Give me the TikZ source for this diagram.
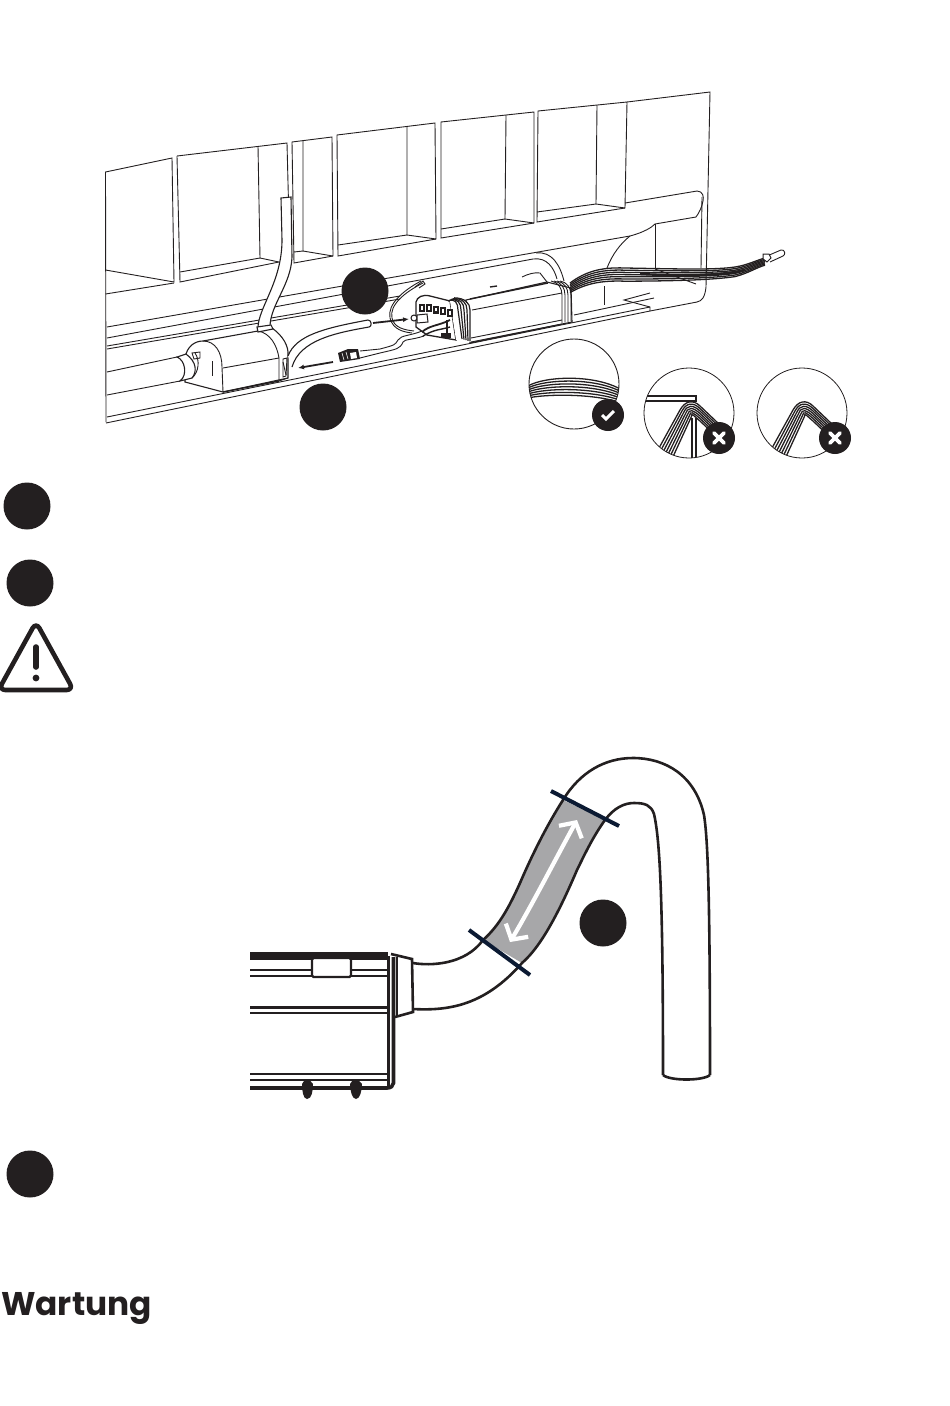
\documentclass[tikz,border=0pt]{standalone}
\usepackage{fontspec}
\newfontfamily\headfont{Poppins}
\usetikzlibrary{arrows.meta,calc}
\definecolor{inkdark}{HTML}{231F20}
\definecolor{navybar}{HTML}{0B1A33}
\definecolor{tubegray}{HTML}{A7A7A9}
\tikzset{
	thinline/.style={draw=inkdark, line width=0.9pt},
	midline/.style={draw=inkdark, line width=1.4pt},
	tubeline/.style={draw=inkdark, line width=2.6pt},
	bundleline/.style={draw=inkdark, line width=1.3pt},
	callout/.style={circle, fill=inkdark, minimum size=47pt, inner sep=0pt},
	marker/.style={circle, fill=inkdark, minimum size=32pt, inner sep=0pt},
	pointer/.style={inkdark, line width=1.8pt, -{Latex[length=6pt,width=5pt]}},
	whitearrow/.style={white, line width=4.2pt, line cap=round, {Straight Barb[length=11pt,width=26pt,line width=4.2pt]}-{Straight Barb[length=11pt,width=26pt,line width=4.2pt]}}
}
\begin{document}
\begin{tikzpicture}[x=1pt,y=-1pt]
	\useasboundingbox (0,0) rectangle (950,1406);

	% wall and niches
	\draw[thinline] (106,422) -- (105.5,172) -- (172,158) -- (174,282) -- (105.5,270);
	\draw[thinline] (105.5,294) -- (174,283);
	\draw[thinline] (177,156) -- (287,143) -- (290,262);
	\draw[thinline] (177,156) -- (180,282) -- (279,262) -- (260,258) -- (258,146);
	\draw[thinline] (180,272) -- (260,258);
	\draw[thinline] (292,142) -- (332,137) -- (333,256) -- (294,263) -- cycle;
	\draw[thinline] (303,141) -- (303,251) -- (333,256);
	\draw[thinline] (294,252) -- (303,251);
	\draw[thinline] (337,135) -- (435,123) -- (436,239) -- (338,256) -- cycle;
	\draw[thinline] (338,245) -- (407,235) -- (407,126);
	\draw[thinline] (407,235) -- (436,239);
	\draw[thinline] (441,122) -- (534,112) -- (534,223) -- (441,238) -- cycle;
	\draw[thinline] (441,229) -- (505,219) -- (506,115);
	\draw[thinline] (505,219) -- (534,223);
	\draw[thinline] (538,111) -- (627,102) -- (625,208) -- (537,222) -- cycle;
	\draw[thinline] (537,212) -- (596,204) -- (597,105);
	\draw[thinline] (596,204) -- (625,208);
	\draw[thinline] (627,102) -- (710,92) -- (706,287) .. controls (705,297) and (702,301) .. (697,302);

	% ledge
	\draw[thinline] (625,203) -- (697,191) .. controls (703,191) and (704,197) .. (703,201) .. controls (702,207) and (699,213) .. (696,217) -- (655,224);
	\draw[thinline] (702,197) -- (701,268);
	\draw[thinline] (655,224) -- (655,268);
	\draw[thinline] (107,327) -- (630,236) .. controls (645,232) and (652,227) .. (655,224);
	\draw[thinline] (630,236) .. controls (620,244) and (612,255) .. (607,268);
	\draw[thinline] (536,253) .. controls (552,251) and (560,265) .. (564,281);
	\draw[thinline] (107,338) -- (533,259) .. controls (547,257) and (554,268) .. (557,279);
	\draw[thinline] (107,346) -- (400,296);
	\draw[thinline] (107,349) -- (400,299);
	\draw[thinline] (107,372) -- (177,357);
	\draw[thinline] (107,395) -- (180,381);
	\draw[thinline] (107,417) -- (650,307);
	\draw[thinline] (106,423) -- (650,311) -- (650,307) -- (624,300) -- (650,293);
	\draw[thinline] (650,311) -- (697,302);
	\draw[thinline] (655,269) -- (696,284) ;
	\draw[thinline] (574,315) -- (654,298);
	\draw[thinline] (604,286) -- (604,305);

	% condensate box
	\filldraw[fill=white, draw=inkdark, line width=1.1pt] (185,382) -- (185,358) .. controls (187,346) and (195,341) .. (203,341) -- (258,331) -- (272,328) .. controls (283,336) and (289,346) .. (288,356) -- (288,378) -- (223,392) -- cycle;
	\draw[thinline] (203,341) .. controls (215,341) and (222,352) .. (222,367) -- (223,392);
	\draw[thinline] (223,368) -- (279,358);
	\draw[midline] (223,392) -- (279,381);
	\draw[thinline] (258,331) .. controls (270,333) and (277,345) .. (279,358) -- (279,381) -- (288,378);
	\draw[thinline] (283,359) -- (287,358) -- (286,376) -- (283,377) -- cycle;
	\draw[thinline] (283,362) -- (286,375);
	\filldraw[fill=white, draw=inkdark, line width=1.1pt] (177,357) .. controls (185,360) and (188,375) .. (180,381) -- (192,378) .. controls (197,372) and (197,362) .. (186,354) -- cycle;
	\draw[thinline] (195,353) .. controls (200,360) and (199,372) .. (192,378);
	\draw[thinline] (192,353) -- (200,352) -- (200,358) -- (194,359) -- cycle;
	\draw[thinline] (212,361) -- (212,376);

	% drain hose
	\filldraw[fill=white, draw=inkdark, line width=1.1pt] (258,328) .. controls (258,308) and (282,282) .. (282,240) -- (281,198) -- (291,197) -- (292,257) .. controls (291,285) and (270,305) .. (270,327);
	\filldraw[fill=white, draw=inkdark, line width=1.1pt] (257,327) -- (271,325) -- (273,329) -- (258,332) -- cycle;

	% outlet tube
	\filldraw[fill=white, draw=inkdark, line width=1.1pt] (288,356) .. controls (296,335) and (325,328) .. (368,320) .. controls (372,320) and (372,327) .. (369,327) .. controls (335,333) and (300,340) .. (292,367);

	% connector and lead
	\draw[thinline, fill=white] (360,351) -- (380,349) .. controls (395,345) and (395,345) .. (398,340) .. controls (401,335) and (410,336) .. (422,331);
	\draw[thinline] (360,358) -- (380,353) .. controls (397,349) and (400,349) .. (403,342) .. controls (405,339) and (412,340) .. (424,336);
	\fill[inkdark] (338,353) -- (348,349) -- (358,349) -- (360,359) -- (340,362) -- cycle;
	\fill[white] (350,353) -- (356,352) -- (357,358) -- (351,359) -- cycle;
	\draw[white, line width=0.6pt] (342,353) -- (344,360);
	\draw[white, line width=0.6pt] (346,352) -- (348,359);

	% driver body
	\filldraw[fill=white, draw=inkdark, line width=1.1pt] (466,300) -- (547,282) -- (571,288) -- (572,322) -- (470,343) -- cycle;
	\draw[midline] (470,299) -- (548,283);
	\draw[thinline] (472,310) -- (562,293);
	\draw[thinline] (471,338) -- (562,320);
	\draw[thinline] (471,342) -- (562,324);
	\draw[thinline] (522,277) .. controls (528,274) and (535,272) .. (540,273) -- (547,282);
	\draw[midline] (490,287) -- (497,286);
	\foreach \i in {0,3,6,9} {
		\draw[thinline] (562+\i,323-\i*0.2) -- (562+\i,295) .. controls (562+\i,288) and (558+\i,282) .. (551+\i,281);
	}

	% driver end block
	\filldraw[fill=white, draw=inkdark, line width=1.3pt] (416,302) .. controls (417,297) and (423,294) .. (430,296) -- (450,301) -- (456,340) -- (427,335) -- (416,327) -- cycle;
	\filldraw[fill=white, draw=none] (450,301) -- (456,297) -- (470,305) -- (471,342) -- (456,340) -- cycle;
	\foreach \i in {0,1,2,3,4} {
		\draw[inkdark, line width=1.2pt] (448+\i*1.5,301-\i*0.8) .. controls (455+\i*2.5,298) and (458+\i*3,303) .. (458+\i*3,310) -- (462+\i*2,339+\i*0.6);
	}
	\foreach \i/\j in {0/0,1/0,2/1.5,3/3,4/5} {
		\fill[inkdark] (419+\i*7,304+\j) rectangle ++(5.5,8);
		\fill[white] (420.5+\i*7,306+\j) rectangle ++(2.5,3.5);
	}
	\draw[midline, line width=1.8pt] (422,332) .. controls (430,325) and (438,326) .. (450,320);
	\draw[midline] (423,336) .. controls (435,329) and (440,330) .. (450,327);
	\filldraw[fill=white, draw=inkdark, line width=1pt] (414,318) circle [radius=3];
	\filldraw[fill=white, draw=inkdark, line width=1pt] (417,315) -- (427,314) -- (428,322) -- (417,323) -- cycle;
	\fill[inkdark] (441,333) rectangle ++(10,5);
	\draw[inkdark, line width=2pt] (447,320) -- (447,333);

	% loop wire
	\draw[thinline] (423,283) .. controls (405,292) and (389,305) .. (392,318) .. controls (394,328) and (405,330) .. (414,331);
	\draw[thinline] (421,281) .. controls (404,290) and (387,304) .. (390,318) .. controls (393,330) and (404,332) .. (412,333);
	\draw[thinline] (415,287) -- (423,281) -- (425,284) -- (419,288);

	% cable bundle
	\foreach \i in {0,2,4,6,8,10,12} {
		\draw[bundleline] (570,283+\i*0.8) .. controls (585,272+\i) and (600,267+\i*1.1) .. (625,268+\i*1.1) .. controls (680,269+\i) and (715,270+\i*0.8) .. (735,267+\i*0.8) .. controls (748,265+\i*0.7) and (757,260+\i*0.6) .. (765,258+\i*0.6);
	}
	\draw[draw=inkdark, line width=2.4pt] (640,274) .. controls (680,276) and (720,276) .. (745,270);
	\draw[thinline] (767,256) -- (781,250) .. controls (785,249) and (786,255) .. (783,256) -- (770,262);
	\filldraw[fill=white, draw=inkdark, line width=1pt] (763,254) -- (769,254) -- (771,258) -- (767,262) -- (763,259) -- cycle;

	% arrows and callouts
	\coordinate (arrowInA) at (373,323);
	\coordinate (arrowInB) at (409,319);
	\coordinate (arrowOutA) at (333,362);
	\coordinate (arrowOutB) at (298,368);
	\draw[pointer] (arrowInA) -- (arrowInB);
	\draw[pointer] (arrowOutA) -- (arrowOutB);
	\node[callout] (calloutA) at (365,291) {};
	\node[callout] (calloutB) at (323,407) {};
	\node[callout] (calloutC) at (27,506) {};
	\node[callout] (calloutD) at (30,583) {};
	\node[callout] (calloutE) at (603,923) {};
	\node[callout] (calloutF) at (30,1174) {};

	% detail circles
	\begin{scope}
		\clip (574,384) circle [radius=45];
		\foreach \i in {0,2,4,6,8,10,12} {
			\draw[bundleline] (528,386+\i) .. controls (545,376+\i*1.5) and (595,374+\i*1.6) .. (622,390+\i*1.1);
		}
	\end{scope}
	\draw[inkdark, line width=0.9pt] (574,384) circle [radius=45];

	\begin{scope}
		\clip (689,413) circle [radius=45];
		\draw[inkdark, line width=1.2pt] (640,396) -- (696,396) -- (696,401) -- (640,401);
		\draw[inkdark, line width=1.2pt] (692,418) -- (692,460);
		\draw[inkdark, line width=1.2pt] (696,418) -- (696,460);
		\foreach \i in {0,1,2,3,4,5,6} {
			\draw[bundleline] (659+\i*2.4,448+\i*1.3) -- (680+\i*1.9,410+\i*1.1) .. controls (685+\i*1.1,401+\i*1.9) and (693,399+\i*2.7) .. (700,406+\i*2.5) -- (720,425+\i*2.5);
		}
	\end{scope}
	\draw[inkdark, line width=0.8pt] (689,413) circle [radius=45];

	\begin{scope}
		\clip (802,413) circle [radius=45];
		\foreach \i in {0,1,2,3,4,5,6} {
			\draw[bundleline] (772+\i*2.4,448+\i*1.3) -- (793+\i*1.9,410+\i*1.1) .. controls (798+\i*1.1,401+\i*1.9) and (806,399+\i*2.7) .. (813,406+\i*2.5) -- (833,425+\i*2.5);
		}
	\end{scope}
	\draw[inkdark, line width=0.8pt] (802,413) circle [radius=45];

	\node[marker] (markerOk) at (608,415) {};
	\node[marker] (markerBadA) at (719,438) {};
	\node[marker] (markerBadB) at (835,438) {};
	\draw[white, line width=3pt] (602,415) -- (606,419) -- (614,411);
	\foreach \m in {markerBadA,markerBadB} {
		\draw[white, line width=3.6pt, line cap=round] ($(\m)+(-5,-5)$) -- ($(\m)+(5,5)$);
		\draw[white, line width=3.6pt, line cap=round] ($(\m)+(-5,5)$) -- ($(\m)+(5,-5)$);
	}

	% warning sign
	\draw[inkdark, line width=4.6pt, line join=round, rounded corners=7pt] (36,622) -- (73.5,690) -- (-1.5,690) -- cycle;
	\draw[inkdark, line width=5.6pt, line cap=round] (36,647) -- (36,667);
	\fill[inkdark] (36,678) circle [radius=3.4];

	% lower drawing, housing
	\fill[inkdark] (250,952) rectangle (388,960);
	\draw[midline, line width=2pt] (250,970) -- (388,970);
	\draw[midline, line width=2pt] (250,975.5) -- (388,975.5);
	\draw[midline, line width=2.4pt] (250,1007.5) -- (388,1007.5);
	\draw[midline, line width=2.4pt] (250,1013) -- (388,1013);
	\draw[midline, line width=2pt] (250,1074) -- (388,1074);
	\draw[midline, line width=2pt] (250,1079.5) -- (388,1079.5);
	\draw[tubeline, line width=3.6pt] (250,1088) -- (387,1088) .. controls (391,1088) and (393,1086) .. (393.5,1083) -- (393.5,957);
	\draw[tubeline] (388.5,956) -- (388.5,1088);
	\filldraw[fill=white, draw=inkdark, line width=2.4pt, rounded corners=1.5pt] (312,958) rectangle (351,977);
	\fill[inkdark] (250,952) rectangle (388,958);
	\fill[inkdark] (302,1084) .. controls (303,1079) and (311,1079) .. (313,1084) .. controls (313,1090) and (312,1099) .. (307,1099) .. controls (303,1099) and (302,1090) .. (302,1084) -- cycle;
	\fill[inkdark] (350,1084) .. controls (351,1079) and (360,1079) .. (362,1084) .. controls (362,1090) and (360,1099) .. (356,1099) .. controls (352,1099) and (350,1090) .. (350,1084) -- cycle;
	\draw[tubeline] (391,954) -- (412,959) -- (413,1012) -- (395,1017);
	\draw[tubeline, line width=1.6pt] (397,957) -- (397,1016);

	% lower drawing, flexible hose
	\fill[tubegray] (483,940) .. controls (500,925) and (510,905) .. (520,883) .. controls (532,855) and (547,825) .. (563,800) -- (605,820) .. controls (592,838) and (583,858) .. (577,870) .. controls (562,905) and (543,945) .. (522,963) -- cycle;
	\draw[tubeline] (413,963) .. controls (430,966) and (465,965) .. (483,940) .. controls (500,925) and (510,905) .. (520,883) .. controls (532,855) and (547,825) .. (563,800) .. controls (580,772) and (605,758) .. (633,758) .. controls (665,758) and (695,775) .. (704,815) .. controls (708,840) and (710,900) .. (710,1075);
	\draw[tubeline] (413,1009) .. controls (450,1011) and (485,1005) .. (522,963) .. controls (543,945) and (562,905) .. (577,870) .. controls (583,858) and (592,838) .. (605,820) .. controls (614,808) and (624,803) .. (634,803) .. controls (645,803) and (651,805) .. (654,814) .. controls (660,840) and (663,900) .. (663,1075);
	\draw[tubeline] (663,1075) .. controls (670,1081) and (703,1081) .. (710,1075);
	\draw[navybar, line width=4pt] (469,930) -- (530,975);
	\draw[navybar, line width=4pt] (551,791) -- (619,826);
	\coordinate (spanTop) at (577,820);
	\coordinate (spanBottom) at (510,942);
	\draw[whitearrow] (spanBottom) .. controls (532,905) and (555,860) .. (spanTop);

	\node[anchor=base west, inner sep=0pt, inkdark, font=\headfont\bfseries\fontsize{32.8}{38}\selectfont] (title) at (1,1315) {Wartung};
\end{tikzpicture}
\end{document}
